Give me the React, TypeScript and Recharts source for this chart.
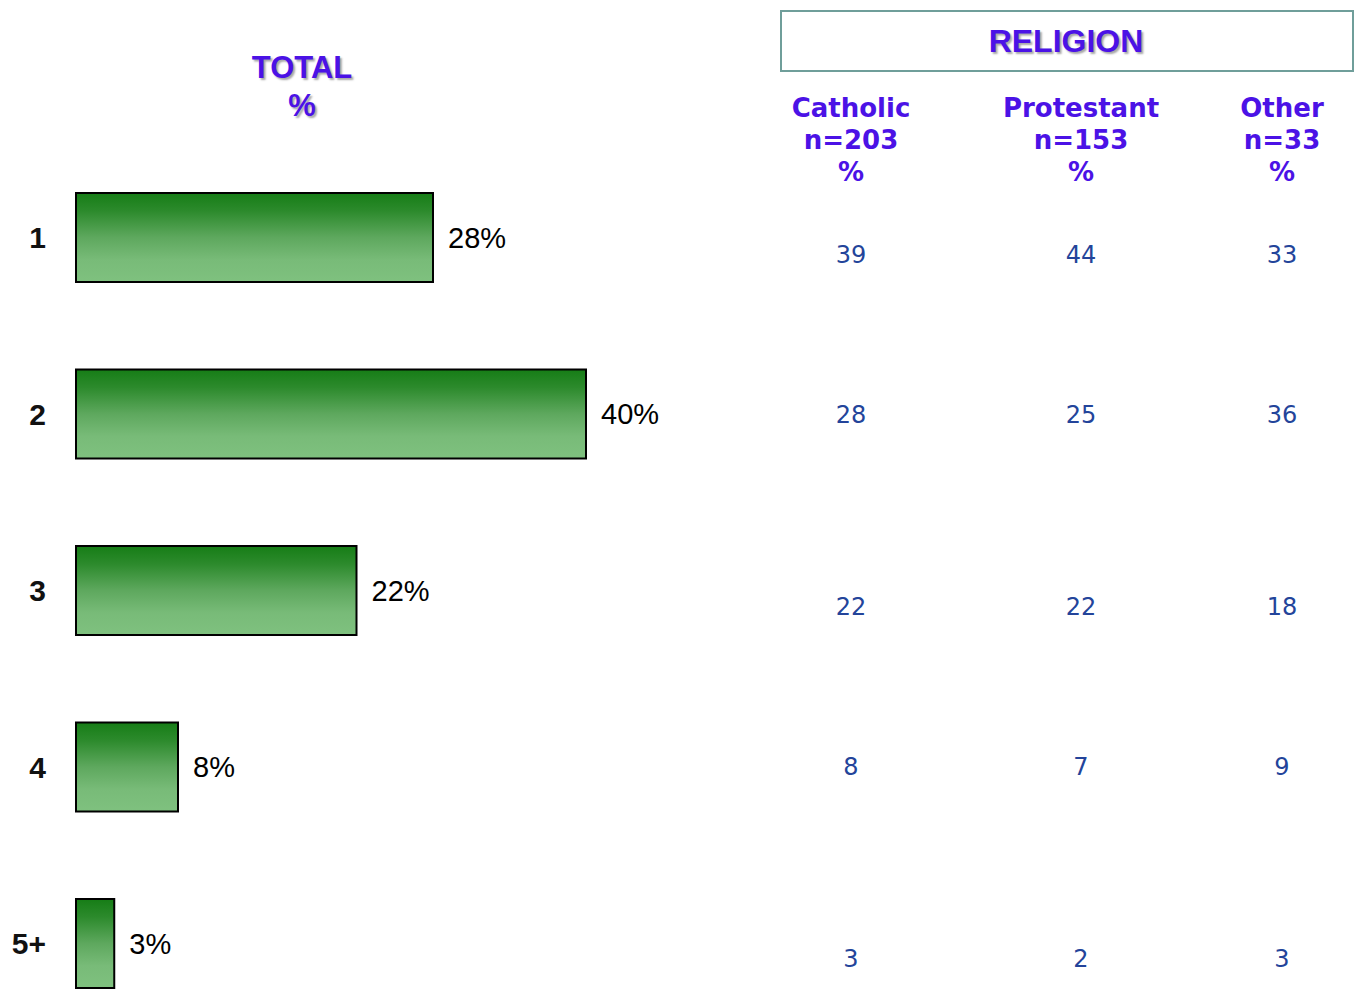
import React from 'react';
import { BarChart, Bar, XAxis, YAxis, LabelList } from 'recharts';

// categories / values
const categories = ['1', '2', '3', '4', '5+'];
const totalValues = [28, 40, 22, 8, 3];

const groups = ['Catholic', 'Protestant', 'Other'];
const groupSizes = [203, 153, 33];
const catholicValues = [39, 28, 22, 8, 3];
const protestantValues = [44, 25, 22, 7, 2];
const otherValues = [33, 36, 18, 9, 3];

const groupValues = [catholicValues, protestantValues, otherValues];

const chartData = categories.map((name, i) => ({ name, total: totalValues[i] }));

// page layout, in page pixels
const colCenters = [851, 1081, 1282];
const rowCenters = [255, 415, 607, 767, 959];

const HEAD = '#4B12E6';
const NUM = '#23449A';
const shadow = '2px 2px 2px rgba(0,0,0,0.35)';

const pos = (x: number, y: number): React.CSSProperties => ({
  position: 'absolute',
  left: x,
  top: y,
  transform: 'translate(-50%, -50%)',
  whiteSpace: 'nowrap',
});

const CategoryTick = (props: any) => {
  const { x, y, payload } = props;
  return (
    <text
      x={x - 22}
      y={y}
      textAnchor="end"
      dominantBaseline="central"
      fontFamily="'Liberation Sans', Arial, sans-serif"
      fontWeight="bold"
      fontSize={30}
      fill="#111"
    >
      {payload.value}
    </text>
  );
};

export default function App() {
  return (
    <div style={{ position: 'fixed', left: 0, top: 0, width: 1354, height: 994, overflow: 'hidden', background: '#fff' }}>
      <div
        style={{
          ...pos(302, 87),
          textAlign: 'center',
          fontFamily: "'Liberation Sans', Arial, sans-serif",
          fontWeight: 'bold',
          fontSize: 31,
          lineHeight: '38px',
          color: HEAD,
          textShadow: shadow,
        }}
      >
        TOTAL
        <br />%
      </div>

      <div style={{ position: 'absolute', left: 780, top: 10, width: 574, height: 62, border: '2px solid #6F9E9A', boxSizing: 'border-box' }} />
      <div
        style={{
          ...pos(1066, 41),
          fontFamily: "'Liberation Sans', Arial, sans-serif",
          fontWeight: 'bold',
          fontSize: 32,
          color: HEAD,
          textShadow: shadow,
        }}
      >
        RELIGION
      </div>

      {groups.map((g, c) => (
        <div
          key={g}
          style={{
            ...pos(colCenters[c], 140),
            textAlign: 'center',
            fontFamily: "'DejaVu Sans', Verdana, sans-serif",
            fontWeight: 'bold',
            fontSize: 26,
            lineHeight: '32px',
            color: HEAD,
          }}
        >
          {g}
          <br />n={groupSizes[c]}
          <br />%
        </div>
      ))}

      {groupValues.map((vals, c) =>
        vals.map((v, r) => (
          <div
            key={`${c}-${r}`}
            style={{
              ...pos(colCenters[c], rowCenters[r]),
              fontFamily: "'DejaVu Sans', Verdana, sans-serif",
              fontSize: 24,
              color: NUM,
            }}
          >
            {v}
          </div>
        ))
      )}

      <div style={{ position: 'absolute', left: 0, top: 0 }}>
        <BarChart
          width={720}
          height={1031.75}
          data={chartData}
          layout="vertical"
          margin={{ top: 149.25, right: 6.5, bottom: 0, left: 0 }}
          barCategoryGap="24.8%"
        >
          <defs>
            <linearGradient id="greenBar" x1="0" y1="0" x2="0" y2="1">
              <stop offset="0%" stopColor="#167D16" />
              <stop offset="20%" stopColor="#2C8A2C" />
              <stop offset="50%" stopColor="#5EA85E" />
              <stop offset="75%" stopColor="#78BB78" />
              <stop offset="100%" stopColor="#7FC17F" />
            </linearGradient>
          </defs>
          <XAxis type="number" domain={[0, 50]} hide />
          <YAxis
            type="category"
            dataKey="name"
            width={76}
            axisLine={false}
            tickLine={false}
            tick={<CategoryTick />}
          />
          <Bar dataKey="total" fill="url(#greenBar)" stroke="#000" strokeWidth={2} isAnimationActive={false}>
            <LabelList
              dataKey="total"
              position="right"
              offset={15}
              formatter={(v: any) => `${v}%`}
              style={{ fontFamily: "'Liberation Sans', Arial, sans-serif", fontSize: 29, fill: '#000' }}
            />
          </Bar>
        </BarChart>
      </div>
    </div>
  );
}
